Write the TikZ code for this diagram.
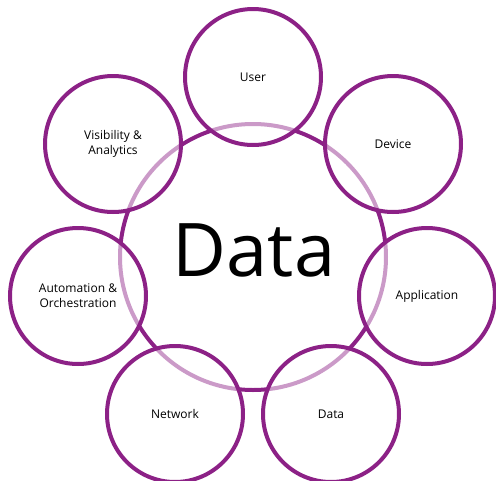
\documentclass[tikz,border=0pt]{standalone}
\usepackage{fontspec}
\setmainfont{Open Sans}
\definecolor{dpurple}{HTML}{8C2186}
\tikzset{
	area/.style={circle, inner sep=0, minimum size=136pt, line width=4pt, draw=dpurple, fill=white, fill opacity=0.55, text opacity=1, align=center, font=\fontsize{12}{15}\selectfont},
}
\begin{document}
\begin{tikzpicture}[x=1pt, y=-1pt]
		\useasboundingbox (0,0) rectangle (496,480);
		\node (core) at (253,257) [circle, inner sep=0, minimum size=266pt, line width=4pt, draw=dpurple] {};
		\node (coretext) at (254,250) [font=\fontsize{74}{74}\selectfont] {Data};
		\node (user) at (253,77) [area] {User};
		\node (device) at (393,144) [area] {Device};
		\node (app) at (427,296) [area] {Application};
		\node (data) at (331,414) [area] {Data};
		\node (network) at (175,414) [area] {Network};
		\node (auto) at (78,296) [area] {Automation \&\\Orchestration};
		\node (vis) at (113,144) [area] {Visibility \&\\Analytics};
	\end{tikzpicture}
\end{document}
